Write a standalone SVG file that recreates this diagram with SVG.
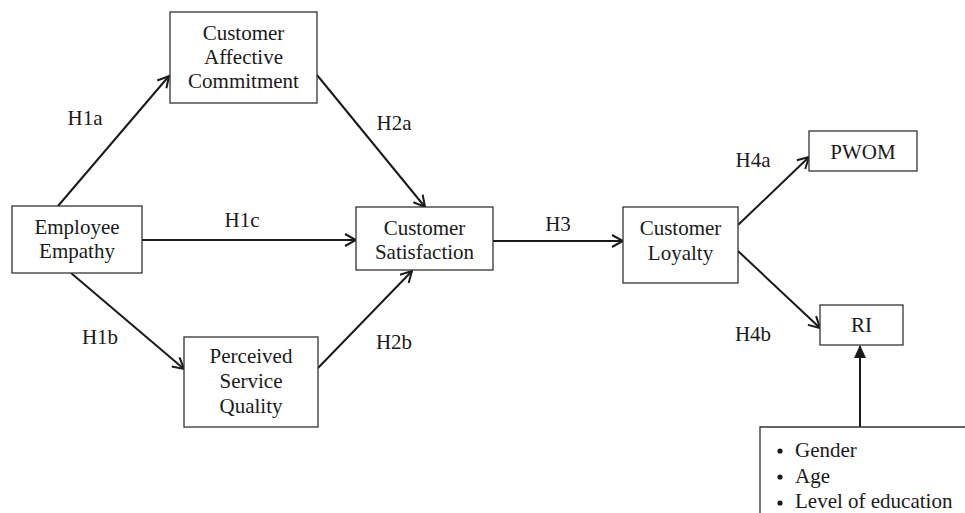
<svg xmlns="http://www.w3.org/2000/svg" width="965" height="513" viewBox="0 0 965 513">
<defs>
<marker id="open" markerWidth="14" markerHeight="14" refX="12" refY="7" orient="auto" markerUnits="userSpaceOnUse">
<path d="M1,1 L12,7 L1,13" fill="none" stroke="#1a1a1a" stroke-width="2"/>
</marker>
<marker id="solid" markerWidth="14" markerHeight="14" refX="12" refY="7" orient="auto" markerUnits="userSpaceOnUse">
<path d="M0,1 L13,7 L0,13 Z" fill="#1a1a1a"/>
</marker>
</defs>
<style>
.box{fill:#fff;stroke:#333;stroke-width:1.3}
.t{font-family:"Liberation Serif","Times New Roman",serif;font-size:21px;fill:#1a1a1a;text-anchor:middle}
.l{font-family:"Liberation Serif","Times New Roman",serif;font-size:21px;fill:#1a1a1a}
.c{stroke:#1a1a1a;stroke-width:2;fill:none}
</style>
<rect width="965" height="513" fill="#fff"/>
<g id="connectors">
<line class="c" x1="58" y1="206" x2="169" y2="76" marker-end="url(#open)"/>
<line class="c" x1="317" y1="75" x2="425" y2="207" marker-end="url(#open)"/>
<line class="c" x1="142" y1="240" x2="356" y2="240" marker-end="url(#open)"/>
<line class="c" x1="71" y1="273" x2="184" y2="369" marker-end="url(#open)"/>
<line class="c" x1="318" y1="368" x2="412" y2="271" marker-end="url(#open)"/>
<line class="c" x1="493" y1="241" x2="623" y2="241" marker-end="url(#open)"/>
<line class="c" x1="738" y1="225" x2="809" y2="157" marker-end="url(#open)"/>
<line class="c" x1="738" y1="251" x2="820" y2="328" marker-end="url(#open)"/>
<line class="c" x1="860" y1="427" x2="860" y2="346" marker-end="url(#solid)"/>
<text class="t" x="85" y="125">H1a</text>
<text class="t" x="394" y="130">H2a</text>
<text class="t" x="242" y="227">H1c</text>
<text class="t" x="100" y="344">H1b</text>
<text class="t" x="394" y="349">H2b</text>
<text class="t" x="558" y="231">H3</text>
<text class="t" x="753" y="167">H4a</text>
<text class="t" x="753" y="341">H4b</text>
</g>
<g id="cac">
<rect class="box" x="170" y="12" width="147" height="91"/>
<text class="t" x="243.5" y="40">Customer</text>
<text class="t" x="243.5" y="64">Affective</text>
<text class="t" x="243.5" y="88">Commitment</text>
</g>
<g id="ee">
<rect class="box" x="12" y="206" width="130" height="67"/>
<text class="t" x="77" y="234">Employee</text>
<text class="t" x="77" y="258">Empathy</text>
</g>
<g id="cs">
<rect class="box" x="356" y="207" width="137" height="63"/>
<text class="t" x="424.5" y="235">Customer</text>
<text class="t" x="424.5" y="259">Satisfaction</text>
</g>
<g id="psq">
<rect class="box" x="184" y="337" width="134" height="90"/>
<text class="t" x="251" y="363">Perceived</text>
<text class="t" x="251" y="388">Service</text>
<text class="t" x="251" y="413">Quality</text>
</g>
<g id="cl">
<rect class="box" x="623" y="207" width="115" height="76"/>
<text class="t" x="680.5" y="235">Customer</text>
<text class="t" x="680.5" y="260">Loyalty</text>
</g>
<g id="pwom">
<rect class="box" x="809" y="131" width="108" height="40"/>
<text class="t" x="863" y="159">PWOM</text>
</g>
<g id="ri">
<rect class="box" x="820" y="305" width="83" height="40"/>
<text class="t" x="861.5" y="332">RI</text>
</g>
<g id="controls">
<path class="box" d="M965,427 L760,427 L760,513" fill="none"/>
<circle cx="780" cy="451" r="2.6" fill="#1a1a1a"/>
<circle cx="780" cy="477" r="2.6" fill="#1a1a1a"/>
<circle cx="780" cy="503" r="2.6" fill="#1a1a1a"/>
<text class="l" x="795" y="457">Gender</text>
<text class="l" x="795" y="483">Age</text>
<text class="l" x="795" y="508">Level of education</text>
</g>
</svg>
